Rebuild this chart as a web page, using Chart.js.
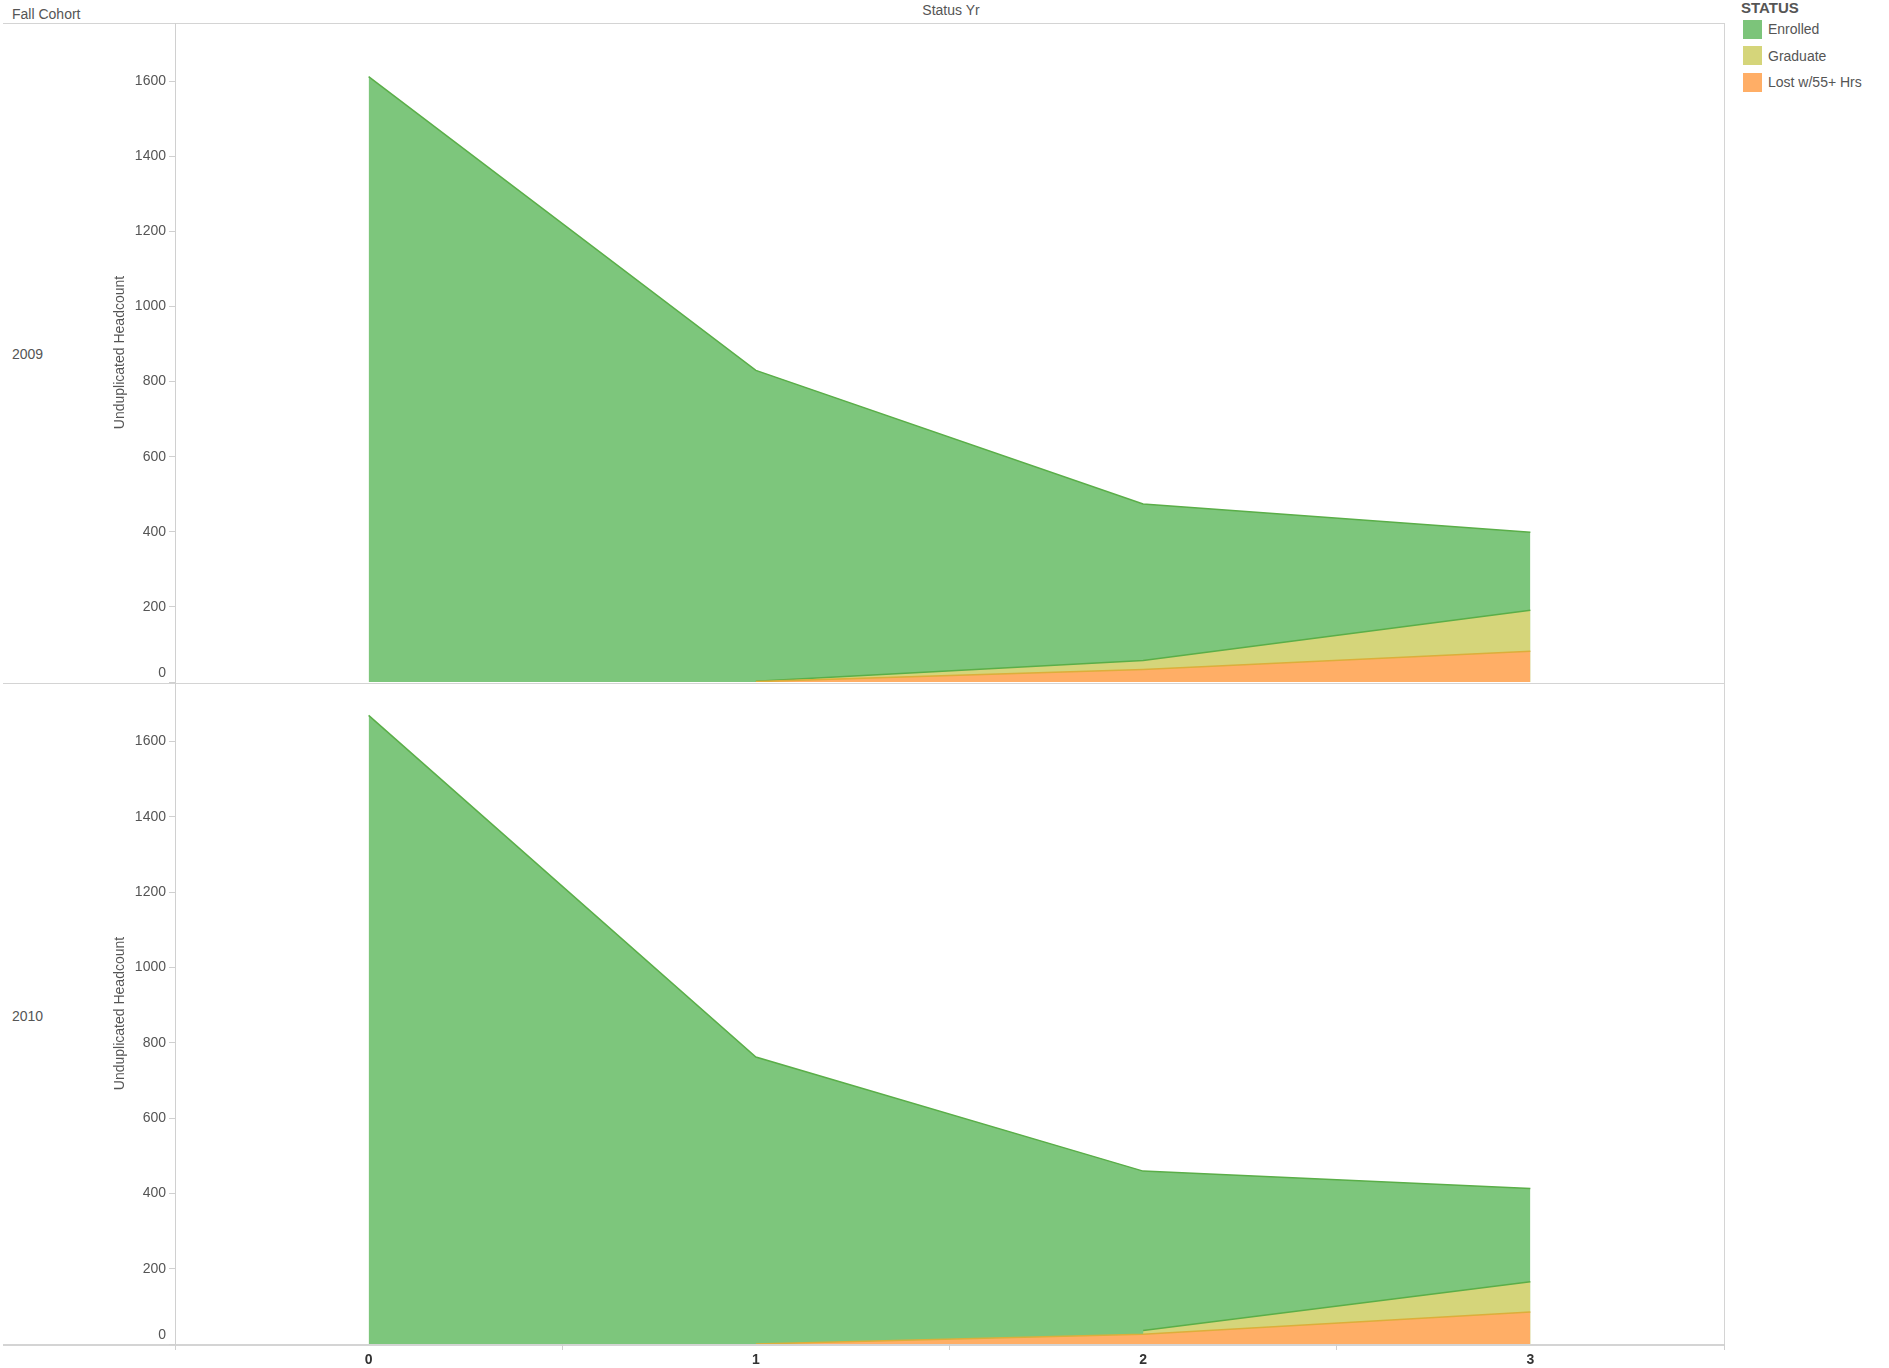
<!DOCTYPE html>
<html>
<head>
<meta charset="utf-8">
<script src="https://cdn.jsdelivr.net/npm/chart.js@4/dist/chart.umd.min.js"></script>
<style>
  body { margin: 0; background: #fff; font-family: "Liberation Sans", Arial, sans-serif; }
  .abs { position: absolute; white-space: nowrap; }
  .txt { font-size: 14px; color: #555; line-height: 16px; }
  .hline { position: absolute; height: 1px; background: #d4d4d4; }
  .vline { position: absolute; width: 1px; background: #d4d4d4; }
  .sw { position: absolute; width: 19px; height: 19px; }
</style>
</head>
<body>
<div class="abs txt" style="left:12px;top:6px;">Fall Cohort</div>
<div class="abs txt" style="left:951px;top:2px;transform:translateX(-50%);">Status Yr</div>
<div class="abs txt" style="left:12px;top:346px;">2009</div>
<div class="abs txt" style="left:12px;top:1008px;">2010</div>

<div class="abs" style="left:1741px;top:0px;font-size:15px;font-weight:bold;color:#555;line-height:16px;">STATUS</div>
<div class="sw" style="left:1743px;top:20px;background:#7cc47a;"></div>
<div class="abs txt" style="left:1768px;top:21px;">Enrolled</div>
<div class="sw" style="left:1743px;top:46px;background:#d5d57a;"></div>
<div class="abs txt" style="left:1768px;top:48px;">Graduate</div>
<div class="sw" style="left:1743px;top:73px;background:#ffae66;"></div>
<div class="abs txt" style="left:1768px;top:74px;">Lost w/55+ Hrs</div>

<div class="hline" style="left:3px;top:23px;width:1722px;"></div>
<div class="hline" style="left:3px;top:683px;width:1722px;"></div>
<div class="hline" style="left:3px;top:1344px;width:1722px;height:2px;"></div>
<div class="vline" style="left:1724px;top:23px;height:1322px;"></div>

<div class="abs" style="left:112px;top:23px;width:1620px;height:660px;"><canvas id="c2009"></canvas></div>
<div class="abs" style="left:112px;top:683px;width:1620px;height:685px;"><canvas id="c2010"></canvas></div>

<script>
const statusYr = [0, 1, 2, 3];
const yTicks = [0, 200, 400, 600, 800, 1000, 1200, 1400, 1600];
const yMax = 1755;

// 2009 cohort
const enrolled2009 = [1612, 828, 417, 208];
const graduate2009 = [null, 1, 24, 109];
const lost2009 = [null, 1, 33, 82];

// 2010 cohort
const enrolled2010 = [1669, 762, 423, 248];
const graduate2010 = [null, null, 10, 80];
const lost2010 = [null, 0, 26, 85];

const FONT = '"Liberation Sans", Arial, sans-serif';

function cumulative(enrolled, graduate, lost) {
  const lostPts = [], gradPts = [], enrPts = [];
  statusYr.forEach((x, i) => {
    const l = lost[i] || 0, g = graduate[i] || 0, e = enrolled[i] || 0;
    if (lost[i] !== null) lostPts.push({ x, y: l });
    if (graduate[i] !== null) gradPts.push({ x, y: l + g });
    if (enrolled[i] !== null) enrPts.push({ x, y: l + g + e });
  });
  return { lostPts, gradPts, enrPts };
}

function makeChart(id, enrolled, graduate, lost, showX) {
  const d = cumulative(enrolled, graduate, lost);
  return new Chart(document.getElementById(id), {
    type: 'line',
    data: {
      datasets: [
        { label: 'Lost w/55+ Hrs', data: d.lostPts, fill: 'origin',
          backgroundColor: '#ffae66', borderColor: '#dcae3a', borderWidth: 1.5 },
        { label: 'Graduate', data: d.gradPts, fill: 'origin',
          backgroundColor: '#d5d57a', borderColor: '#5aae48', borderWidth: 1.5 },
        { label: 'Enrolled', data: d.enrPts, fill: 'origin',
          backgroundColor: '#7dc67c', borderColor: '#5aae48', borderWidth: 1.5 }
      ]
    },
    options: {
      responsive: true,
      maintainAspectRatio: false,
      animation: false,
      elements: { point: { radius: 0, hoverRadius: 0 }, line: { tension: 0 } },
      layout: { padding: { top: 0, right: 8, bottom: showX ? 0 : 1, left: 0 } },
      plugins: { legend: { display: false }, tooltip: { enabled: false } },
      scales: {
        x: {
          type: 'linear',
          display: showX,
          min: -0.5,
          max: 3.5,
          afterBuildTicks: s => {
            s.ticks = [-0.5, 0, 0.5, 1, 1.5, 2, 2.5, 3, 3.5].map(v => ({ value: v }));
          },
          afterFit: s => { s.height = showX ? 24 : 0; },
          grid: {
            drawOnChartArea: false,
            tickLength: 6,
            color: ctx => (ctx.tick && Number.isInteger(ctx.tick.value)) ? 'rgba(0,0,0,0)' : '#d0d0d0'
          },
          border: { display: false },
          ticks: {
            autoSkip: false,
            maxRotation: 0,
            padding: 2,
            color: '#333',
            font: { family: FONT, size: 14, weight: 'bold' },
            callback: v => Number.isInteger(v) ? String(v) : ''
          }
        },
        y: {
          min: 0,
          max: yMax,
          afterBuildTicks: s => { s.ticks = yTicks.map(v => ({ value: v })); },
          afterFit: s => { s.width = 63; s.paddingTop = 0; s.paddingBottom = 0; },
          grid: { drawOnChartArea: false, tickLength: 6, color: '#d0d0d0' },
          border: { color: '#d0d0d0' },
          ticks: {
            padding: 3,
            color: '#555',
            font: { family: FONT, size: 14 },
            callback: v => v === 0 ? ['0', ''] : String(v)
          },
          title: {
            display: true,
            text: 'Unduplicated Headcount',
            color: '#555',
            font: { family: FONT, size: 14 },
            padding: { top: 0, bottom: 0 }
          }
        }
      }
    }
  });
}

makeChart('c2009', enrolled2009, graduate2009, lost2009, false);
makeChart('c2010', enrolled2010, graduate2010, lost2010, true);
</script>
</body>
</html>
